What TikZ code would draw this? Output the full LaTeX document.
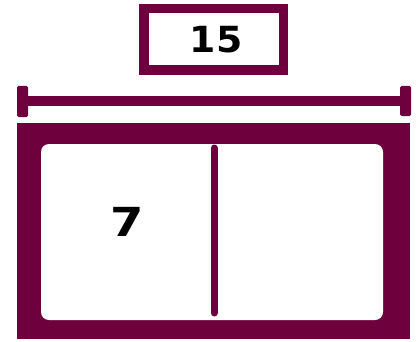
\documentclass[tikz,border=0pt]{standalone}
\usepackage{fontspec}
\setmainfont{DejaVu Sans}
\definecolor{plum}{RGB}{110,0,62}
\begin{document}
\begin{tikzpicture}[x=1pt,y=-1pt,
  frame/.style={draw=plum,line width=9.5pt,fill=white,inner sep=0pt},
  numtext/.style={font=\bfseries\fontsize{36}{36}\selectfont,text=black},
  tick/.style={fill=plum,rounded corners=1.5pt}]
\useasboundingbox (0,0) rectangle (417,342);
% top label box
\node[frame,minimum width=139.5pt,minimum height=61.5pt] (lbl) at (213.75,39.25) {};
\node[numtext,xscale=1.05] (t15) at (216,40) {15};
% dimension line
\path[tick] (17,86) rectangle (28,117);
\coordinate (tl) at (22.5,101.5);
\path[tick] (400,86) rectangle (411,116);
\coordinate (tr) at (405.5,101.5);
\draw[plum,line width=10pt] (tl) -- (tr);
% big frame
\node[fill=plum,inner sep=0pt,minimum width=393pt,minimum height=216pt] (outer) at (213.5,231) {};
\node[fill=white,inner sep=0pt,rounded corners=8pt,minimum width=342pt,minimum height=176pt] (inner) at (212,232) {};
\coordinate (dtop) at (214,148);
\coordinate (dbot) at (214,313);
\draw[plum,line width=7pt,line cap=round] (dtop) -- (dbot);
\node[numtext,font=\bfseries\fontsize{40}{40}\selectfont,xscale=1.2] (t7) at (127,222) {7};
\end{tikzpicture}
\end{document}
